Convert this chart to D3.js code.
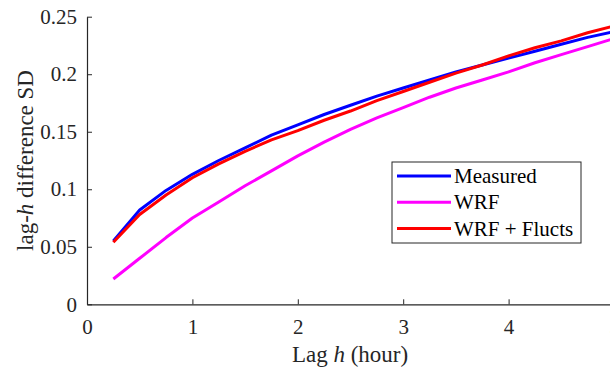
<!DOCTYPE html>
<html>
<head>
<meta charset="utf-8">
<script src="https://cdn.jsdelivr.net/npm/d3@7"></script>
<style>
  body { margin: 0; background: #fff; }
  .axis path, .axis line { stroke: #262626; }
</style>
</head>
<body>
<div id="chart"></div>
<script>
// lag values (hours) and SD of lag-h differences
const lags = [0.25, 0.5, 0.75, 1, 1.25, 1.5, 1.75, 2, 2.25, 2.5, 2.75, 3, 3.25, 3.5, 3.75, 4, 4.25, 4.5, 4.75, 5]
const measured = [0.055, 0.082, 0.099, 0.113, 0.125, 0.136, 0.147, 0.156, 0.165, 0.173, 0.181, 0.188, 0.195, 0.202, 0.208, 0.214, 0.220, 0.226, 0.232, 0.237]
const wrf = [0.022, 0.040, 0.058, 0.075, 0.089, 0.103, 0.116, 0.129, 0.141, 0.152, 0.162, 0.171, 0.180, 0.188, 0.195, 0.202, 0.210, 0.217, 0.224, 0.231]
const wrfFlucts = [0.054, 0.078, 0.095, 0.110, 0.122, 0.133, 0.143, 0.151, 0.160, 0.168, 0.177, 0.185, 0.193, 0.201, 0.208, 0.216, 0.223, 0.229, 0.236, 0.242]
const seriesNames = ['Measured', 'WRF', 'WRF + Flucts']
const seriesColors = ['#0000ff', '#ff00ff', '#ff0000']
const xTicks = [0, 1, 2, 3, 4, 5]
const yTicks = [0, 0.05, 0.1, 0.15, 0.2, 0.25]

const width = 610
const height = 368
const margin = { left: 87, top: 16.7, right: -4, bottom: 63.7 }
const serif = '"Liberation Serif", "Times New Roman", serif'

const svg = d3.select('#chart').append('svg')
  .attr('width', width)
  .attr('height', height)

const x = d3.scaleLinear().domain([0, 5]).range([margin.left, width - margin.right])
const y = d3.scaleLinear().domain([0, 0.25]).range([height - margin.bottom, margin.top])

// axes, ticks pointing inward like matlab
svg.append('g')
  .attr('class', 'axis x')
  .attr('transform', `translate(0,${y(0)})`)
  .call(d3.axisBottom(x).tickValues(xTicks).tickSize(-5).tickPadding(15).tickSizeOuter(0).tickFormat(d3.format('d')))

svg.append('g')
  .attr('class', 'axis y')
  .attr('transform', `translate(${x(0)},0)`)
  .call(d3.axisLeft(y).tickValues(yTicks).tickSize(-5).tickPadding(10).tickSizeOuter(0).tickFormat(d => d === 0 ? '0' : String(d)))

svg.selectAll('.axis text')
  .style('font-family', serif)
  .style('font-size', '21px')
  .attr('fill', '#262626')
svg.selectAll('.axis .domain').attr('stroke-width', 1.2)

// lines
const allSeries = [measured, wrf, wrfFlucts]
const line = d3.line()
  .x((d, i) => x(lags[i]))
  .y(d => y(d))

svg.selectAll('.series')
  .data(allSeries)
  .join('path')
  .attr('class', 'series')
  .attr('fill', 'none')
  .attr('stroke', (d, i) => seriesColors[i])
  .attr('stroke-width', 3)
  .attr('stroke-linejoin', 'round')
  .attr('d', line)

// axis labels
const xLabel = svg.append('text')
  .attr('x', 350)
  .attr('y', 362)
  .attr('text-anchor', 'middle')
  .style('font-family', serif)
  .style('font-size', '23px')
  .attr('fill', '#262626')
xLabel.append('tspan').text('Lag ')
xLabel.append('tspan').style('font-style', 'italic').text('h')
xLabel.append('tspan').text(' (hour)')

const yLabel = svg.append('text')
  .attr('transform', 'translate(33,160.5) rotate(-90)')
  .attr('text-anchor', 'middle')
  .style('font-family', serif)
  .style('font-size', '23px')
  .attr('fill', '#262626')
yLabel.append('tspan').text('lag-')
yLabel.append('tspan').style('font-style', 'italic').text('h')
yLabel.append('tspan').text(' difference SD')

// legend
const legend = svg.append('g').attr('class', 'legend')
legend.append('rect')
  .attr('x', 392)
  .attr('y', 162)
  .attr('width', 189)
  .attr('height', 81)
  .attr('fill', '#fff')
  .attr('stroke', '#262626')
  .attr('stroke-width', 1)

seriesNames.forEach((name, i) => {
  const ly = 176 + i * 26.3
  legend.append('line')
    .attr('x1', 397).attr('x2', 451)
    .attr('y1', ly).attr('y2', ly)
    .attr('stroke', seriesColors[i])
    .attr('stroke-width', 3)
  legend.append('text')
    .attr('x', 454)
    .attr('y', ly + 7)
    .style('font-family', serif)
    .style('font-size', '21px')
    .attr('fill', '#000')
    .text(name)
})
</script>
</body>
</html>
